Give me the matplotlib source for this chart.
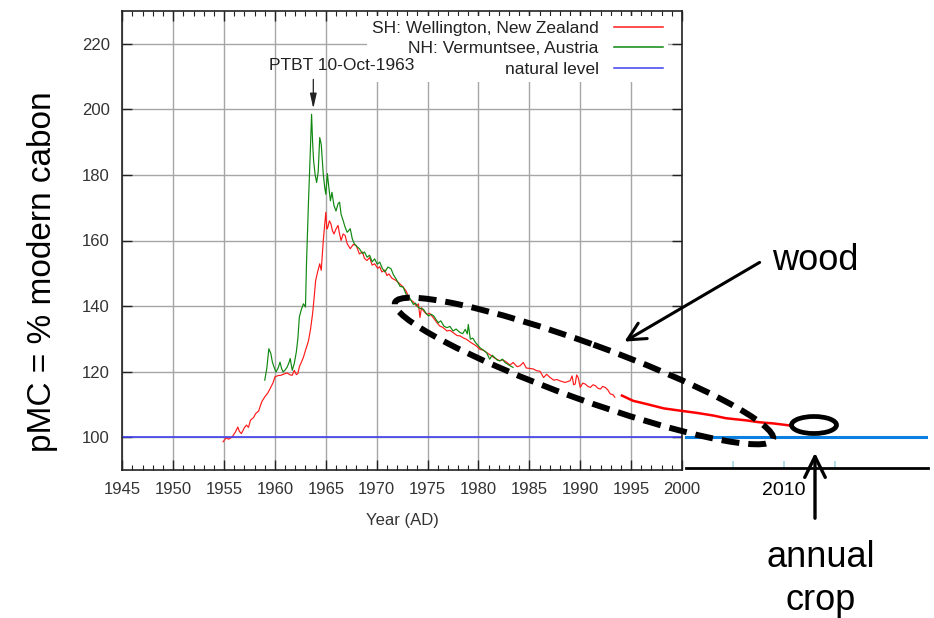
import matplotlib
matplotlib.use("Agg")
import matplotlib.pyplot as plt
from matplotlib.patches import Ellipse

plt.rcParams['font.family'] = ['Liberation Sans', 'DejaVu Sans']

# SH: Wellington, New Zealand (thin red)
red_years = [1954.9, 1955.2, 1955.45, 1955.8, 1956.1, 1956.35, 1956.5, 1956.7, 1957.0, 1957.2,
             1957.4, 1957.6, 1957.9, 1958.1, 1958.4, 1958.7, 1959.0, 1959.3, 1959.6, 1959.8,
             1960.0, 1960.3, 1960.6, 1960.9, 1961.2, 1961.5, 1961.7, 1961.9, 1962.1, 1962.25,
             1962.4, 1962.6, 1962.8, 1963.0, 1963.15, 1963.3, 1963.5, 1963.7, 1963.85, 1964.0,
             1964.2, 1964.4, 1964.55, 1964.75, 1964.9, 1965.0, 1965.1, 1965.2, 1965.35, 1965.5,
             1965.65, 1965.8, 1966.0, 1966.2, 1966.35, 1966.5, 1966.7, 1966.9, 1967.1, 1967.4,
             1967.7, 1967.98, 1968.3, 1968.6, 1968.8, 1969.05, 1969.3, 1969.55, 1969.8, 1970.1,
             1970.3, 1970.5, 1970.8, 1971.0, 1971.2, 1971.5, 1971.9, 1972.2, 1972.6, 1972.9,
             1973.26, 1973.6, 1973.9, 1974.1, 1974.25, 1974.4, 1974.6, 1974.9, 1975.2, 1975.55,
             1975.9, 1976.2, 1976.5, 1976.9, 1977.2, 1977.5, 1977.9, 1978.2, 1978.5, 1978.8,
             1979.2, 1979.5, 1979.8, 1980.15, 1980.5, 1980.8, 1981.2, 1981.5, 1981.8, 1982.1,
             1982.4, 1982.8, 1983.1, 1983.4, 1983.8, 1984.1, 1984.4, 1984.7, 1985.0, 1985.4,
             1985.7, 1986.05, 1986.4, 1986.7, 1987.0, 1987.4, 1987.7, 1988.0, 1988.5, 1989.0,
             1989.2, 1989.35, 1989.5, 1989.65, 1989.8, 1990.0, 1990.25, 1990.5, 1990.75, 1991.0,
             1991.25, 1991.5, 1991.75, 1992.0, 1992.2, 1992.45, 1992.7, 1992.95, 1993.2, 1993.4]
red_vals = [98.6, 99.8, 99.4, 100.1, 101.5, 103.1, 101.8, 101.1, 102.9, 103.7,
            103.0, 105.2, 106.0, 107.2, 108.0, 110.8, 112.3, 113.5, 115.3, 116.5,
            118.4, 118.8, 118.9, 119.3, 119.6, 119.0, 118.9, 120.4, 119.1, 119.4,
            121.5, 122.9, 124.4, 126.5, 127.9, 129.5, 133.0, 137.7, 142.5, 147.8,
            150.5, 152.9, 150.9, 160.0, 165.0, 168.6, 163.5, 164.1, 166.0, 165.1,
            163.0, 162.0, 163.5, 164.6, 162.0, 160.0, 162.0, 161.5, 159.0, 157.5,
            158.8, 158.5, 155.9, 156.5, 154.5, 153.9, 154.8, 152.5, 152.9, 151.5,
            152.0, 150.4, 151.0, 149.3, 149.8, 148.5, 147.8, 147.0, 145.8, 144.5,
            142.0, 141.3, 140.0, 140.7, 136.5, 139.5, 138.5, 137.5, 137.8, 136.5,
            135.0, 133.9, 133.5, 132.4, 132.6, 131.9, 131.0, 130.9, 130.3, 129.9,
            129.0, 128.4, 127.8, 126.8, 126.5, 125.8, 125.0, 124.3, 123.8, 123.3,
            123.6, 122.8, 122.0, 122.8, 121.5, 121.8, 122.8, 121.1, 121.0, 120.8,
            120.3, 120.1, 118.2, 119.2, 118.3, 117.4, 117.6, 117.2, 116.7, 117.2,
            118.7, 116.0, 116.2, 119.0, 118.2, 115.2, 116.5, 116.2, 115.5, 115.2,
            116.0, 115.7, 114.9, 114.7, 115.5, 115.2, 114.5, 113.2, 113.0, 112.2]

# NH: Vermuntsee, Austria (green)
green_years = [1959.0, 1959.2, 1959.4, 1959.6, 1959.75, 1959.9, 1960.1, 1960.3, 1960.5, 1960.65,
               1960.8, 1961.0, 1961.2, 1961.35, 1961.5, 1961.7, 1961.9, 1962.1, 1962.25, 1962.4,
               1962.6, 1962.8, 1963.0, 1963.1, 1963.3, 1963.45, 1963.6, 1963.7, 1963.8, 1963.95,
               1964.1, 1964.25, 1964.4, 1964.55, 1964.75, 1964.9, 1965.0, 1965.15, 1965.3, 1965.45,
               1965.6, 1965.8, 1966.0, 1966.2, 1966.35, 1966.5, 1966.7, 1966.9, 1967.1, 1967.4,
               1967.6, 1967.8, 1968.0, 1968.3, 1968.6, 1968.8, 1969.05, 1969.3, 1969.55, 1969.8,
               1970.05, 1970.3, 1970.55, 1970.8, 1971.1, 1971.4, 1971.65, 1971.9, 1972.3, 1972.6,
               1972.9, 1973.2, 1973.6, 1973.8, 1974.1, 1974.4, 1974.6, 1974.85, 1975.1, 1975.35,
               1975.6, 1975.85, 1976.05, 1976.3, 1976.6, 1976.9, 1977.2, 1977.5, 1977.8, 1978.2,
               1978.45, 1978.7, 1978.9, 1979.0, 1979.2, 1979.45, 1979.7, 1979.95, 1980.15, 1980.5,
               1980.8, 1981.1, 1981.35, 1981.6, 1981.85, 1982.1, 1982.35, 1982.6, 1982.85, 1983.1,
               1983.4]
green_vals = [117.4, 121.0, 127.0, 125.5, 122.9, 121.5, 119.9, 121.0, 122.9, 121.0,
              119.9, 120.5, 121.4, 122.5, 124.0, 120.4, 122.5, 126.0, 130.0, 136.7,
              139.0, 140.7, 139.7, 152.9, 172.2, 185.0, 198.5, 190.0, 184.3, 180.0,
              177.7, 181.0, 191.4, 189.3, 180.2, 176.0, 174.1, 180.4, 176.1, 172.1,
              174.7, 170.7, 169.0, 171.2, 171.7, 168.0, 166.1, 164.0, 162.5, 163.6,
              160.5, 159.0, 158.3, 157.5, 156.0, 156.5, 154.9, 155.5, 153.5, 154.4,
              152.8, 153.4, 151.5, 150.4, 151.9, 151.4, 149.5, 148.3, 146.0, 145.8,
              143.5, 142.7, 140.5, 140.9, 139.5, 139.2, 139.0, 137.8, 137.0, 137.5,
              137.0, 135.8, 134.9, 135.5, 133.9, 133.4, 133.8, 132.4, 133.0, 131.9,
              131.6, 132.9, 131.5, 134.4, 129.9, 130.2, 128.9, 128.0, 127.3, 126.5,
              125.8, 123.8, 125.0, 124.3, 123.5, 123.3, 123.8, 122.8, 122.3, 121.8,
              121.3]

# hand-drawn extension of the SH curve (thick red)
ext_years = [1994.1, 1995.2, 1996.55, 1998.2, 1999.8, 2001.5, 2003.1, 2004.3, 2006.4, 2007.5,
             2008.2, 2009.0, 2010.8]
ext_vals = [112.7, 111.1, 110.1, 108.8, 108.1, 107.4, 106.6, 105.8, 105.1, 104.6,
            104.4, 104.2, 103.5]

natural_level = 100
xticks = list(range(1945, 2001, 5))
yticks = list(range(100, 221, 20))
ext_ticks = [2005, 2010, 2015]
ext_ticklabels = ['', '2010', '']
ptbt_year = 1963.77

W, H = 934, 618
fig = plt.figure(figsize=(W / 100, H / 100), dpi=100)

# main gnuplot-like axes (pixel box 122..682 x 11..470)
L, R, T, B = 122.3, 682.0, 11.0, 470.0
ax = fig.add_axes([L / W, 1 - B / H, (R - L) / W, (B - T) / H])
ax.set_xlim(1945, 2000)
ax.set_ylim(90, 230)
ax.plot(red_years, red_vals, color='#ff1a1a', lw=0.85, label='SH: Wellington, New Zealand')
ax.plot(green_years, green_vals, color='#108810', lw=0.85, label='NH: Vermuntsee, Austria')
ax.axhline(natural_level, color='#4040f0', lw=1.2, label='natural level')
ax.set_xticks(xticks)
ax.set_xticks(range(1945, 2001), minor=True)
ax.set_yticks(yticks)
ax.grid(True, which='major', color='#a6a6a6', lw=1.0)
ax.set_axisbelow(True)
ax.tick_params(which='both', direction='in', top=True, right=True, colors='#222222',
               labelsize=12, labelcolor='#333333')
ax.tick_params(which='major', length=7, width=1.0, pad=9)
ax.tick_params(which='minor', length=3.5, width=0.8)
for s in ax.spines.values():
    s.set_linewidth(1.2)
    s.set_color('#222222')
ax.set_xlabel('Year (AD)', fontsize=12, color='#333333', labelpad=11)

ax.annotate('', xy=(ptbt_year, 199.4), xytext=(ptbt_year, 210.0),
            arrowprops=dict(arrowstyle='-|>, head_length=0.9, head_width=0.2',
                            mutation_scale=10, lw=0.9, color='#222222'), zorder=10)
ax.text(1966.6, 213.4, 'PTBT 10-Oct-1963', ha='center', va='center', fontsize=12.5,
        color='#222222', zorder=10)

leg = ax.legend(loc='upper right', bbox_to_anchor=(0.975, 0.990), markerfirst=False,
                fontsize=12.5, handlelength=2.8, handletextpad=0.9, labelspacing=0.3,
                borderpad=0.3, borderaxespad=0, frameon=True, fancybox=False)
leg.get_frame().set_facecolor('white')
leg.get_frame().set_edgecolor('none')
leg.get_frame().set_alpha(1)
for t in leg.get_texts():
    t.set_color('#222222')
for ln in leg.get_lines():
    ln.set_linewidth(1.1)

# extension panel to the right, same scale
R2 = 928.0
ax2 = fig.add_axes([R / W, 1 - B / H, (R2 - R) / W, (B - T) / H], facecolor='none')
ax2.set_xlim(2000, 2000 + (R2 - R) / ((R - L) / 55))
ax2.set_ylim(90, 230)
ax2.axhline(natural_level, xmin=0.015, color='#0a80e0', lw=2.2)
ax2.plot(ext_years, ext_vals, color='#ff0000', lw=1.8, clip_on=False)
for k in ['left', 'right', 'top']:
    ax2.spines[k].set_visible(False)
ax2.spines['bottom'].set_position(('data', 90.5))
ax2.spines['bottom'].set_bounds(2000.4, ax2.get_xlim()[1])
ax2.spines['bottom'].set_linewidth(2)
ax2.spines['bottom'].set_color('black')
ax2.set_yticks([])
ax2.set_xticks(ext_ticks)
ax2.set_xticklabels(ext_ticklabels)
ax2.tick_params(axis='x', direction='in', length=5, width=1.2, color='#a6d8e0',
                labelsize=14, labelcolor='black', pad=10)

# hand-drawn annotations, in figure pixels
ov = fig.add_axes([0, 0, 1, 1], facecolor='none')
ov.set_xlim(0, W)
ov.set_ylim(H, 0)
ov.axis('off')
ov.add_patch(Ellipse((584, 371), 402, 56, angle=19.9, fill=False, ec='black', lw=4.3,
                     ls=(0, (3.0, 1.5))))
ov.annotate('', xy=(622, 343), xytext=(762, 261),
            arrowprops=dict(arrowstyle='->, head_length=0.64, head_width=0.32',
                            mutation_scale=20, lw=2.2, color='black'))
ov.text(815, 261, 'wood', fontsize=26, ha='center', va='center')
ov.add_patch(Ellipse((814, 425), 45, 17, fill=False, ec='black', lw=3.4))
ov.annotate('', xy=(815, 450), xytext=(815, 521),
            arrowprops=dict(arrowstyle='->, head_length=0.75, head_width=0.37',
                            mutation_scale=20, lw=2.4, color='black'))
ov.text(821, 567, 'annual', fontsize=26, ha='center', va='baseline')
ov.text(821, 610, 'crop', fontsize=26, ha='center', va='baseline')
ov.text(43, 272, 'pMC = % modern cabon', fontsize=24, rotation=90, ha='center', va='center')

fig.savefig('out.png', dpi=100)
